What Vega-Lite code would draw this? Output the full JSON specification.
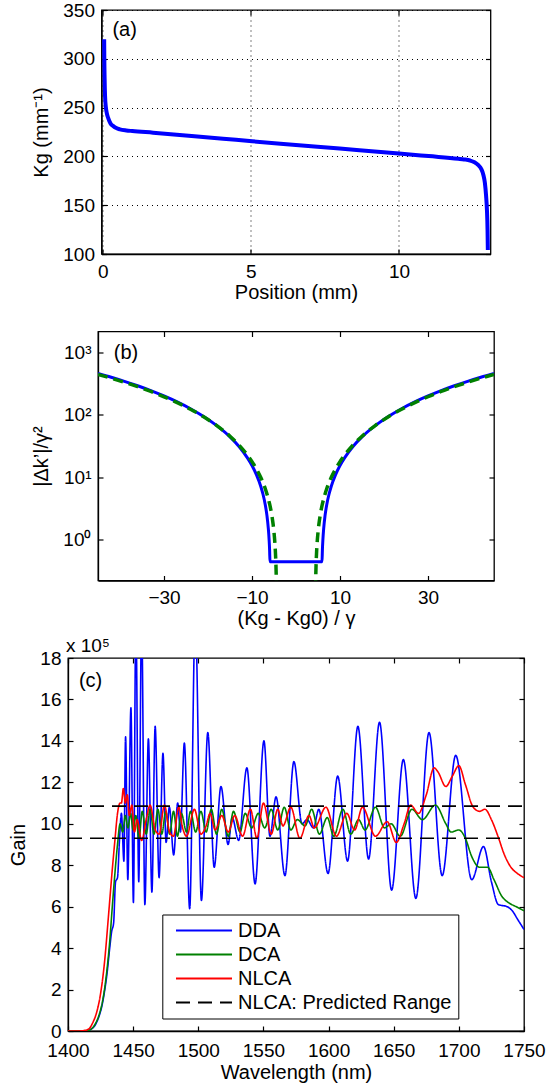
{
  "$schema": "https://vega.github.io/schema/vega-lite/v6.json",
  "padding": {"left": 8, "top": 0, "right": 5, "bottom": 0},
  "config": {
    "font": "Liberation Sans",
    "view": {"stroke": "black", "strokeWidth": 1.3},
    "axis": {
      "domainColor": "black", "domainWidth": 1.3, "tickColor": "black", "tickSize": -5, "tickWidth": 1.2, "labelPadding": 12,
      "labelColor": "black", "titleColor": "black", "labelFontSize": 19, "titleFontSize": 20, "labelFlush": false, "labelOverlap": false,
      "titleFontWeight": "normal", "grid": false, "labelFont": "Liberation Sans", "titleFont": "Liberation Sans"
    },
    "axisY": {"titlePadding": 11},
    "axisX": {"titlePadding": 1, "labelPadding": 13},
    "line": {"strokeCap": "butt"},
    "text": {"font": "Liberation Sans", "color": "black"}
  },
  "datasets": {
    "kg": [
      {"pos": 0.05, "kg": 320}, {"pos": 0.055, "kg": 300}, {"pos": 0.065, "kg": 280}, {"pos": 0.08, "kg": 262},
      {"pos": 0.105, "kg": 251}, {"pos": 0.14, "kg": 244}, {"pos": 0.19, "kg": 239}, {"pos": 0.26, "kg": 234},
      {"pos": 0.36, "kg": 231}, {"pos": 0.46, "kg": 229}, {"pos": 0.58, "kg": 227.7}, {"pos": 0.8, "kg": 226.6},
      {"pos": 1.0, "kg": 226}, {"pos": 1.7, "kg": 224.3}, {"pos": 3, "kg": 221}, {"pos": 4.5, "kg": 217},
      {"pos": 6, "kg": 213}, {"pos": 8, "kg": 208}, {"pos": 10, "kg": 203}, {"pos": 11, "kg": 200.3},
      {"pos": 12, "kg": 197.6}, {"pos": 12.2, "kg": 196.9}, {"pos": 12.4, "kg": 195.8}, {"pos": 12.55, "kg": 194},
      {"pos": 12.68, "kg": 191}, {"pos": 12.78, "kg": 187}, {"pos": 12.85, "kg": 181}, {"pos": 12.9, "kg": 173},
      {"pos": 12.94, "kg": 160}, {"pos": 12.97, "kg": 145}, {"pos": 12.99, "kg": 125}, {"pos": 13.0, "kg": 104}
    ],
    "bblue": [
      {"x": -45, "v": 458.2}, {"x": -42, "v": 398.1}, {"x": -39, "v": 342.2}, {"x": -36, "v": 290.5},
      {"x": -33, "v": 242.9}, {"x": -30, "v": 199.4}, {"x": -27, "v": 160.1}, {"x": -24, "v": 124.9},
      {"x": -21, "v": 93.8}, {"x": -18, "v": 66.9}, {"x": -15, "v": 44.2}, {"x": -13, "v": 31.3},
      {"x": -11, "v": 20.2}, {"x": -10, "v": 15.4}, {"x": -9, "v": 11.0}, {"x": -8, "v": 7.13},
      {"x": -7.5, "v": 5.35}, {"x": -7, "v": 3.68}, {"x": -6.6, "v": 2.43}, {"x": -6.3, "v": 1.54},
      {"x": -6.1, "v": 0.97}, {"x": -6.0, "v": 0.69}, {"x": -5.91, "v": 0.445},
      {"x": 5.91, "v": 0.445}, {"x": 6.0, "v": 0.69}, {"x": 6.1, "v": 0.97}, {"x": 6.3, "v": 1.54},
      {"x": 6.6, "v": 2.43}, {"x": 7, "v": 3.68}, {"x": 7.5, "v": 5.35}, {"x": 8, "v": 7.13},
      {"x": 9, "v": 11.0}, {"x": 10, "v": 15.4}, {"x": 11, "v": 20.2}, {"x": 13, "v": 31.3},
      {"x": 15, "v": 44.2}, {"x": 18, "v": 66.9}, {"x": 21, "v": 93.8}, {"x": 24, "v": 124.9},
      {"x": 27, "v": 160.1}, {"x": 30, "v": 199.4}, {"x": 33, "v": 242.9}, {"x": 36, "v": 290.5},
      {"x": 39, "v": 342.2}, {"x": 42, "v": 398.1}, {"x": 45, "v": 458.2}
    ],
    "bgreen": [
      {"x": -45, "v": 441.3, "p": "L"}, {"x": -42, "v": 383.9, "p": "L"}, {"x": -39, "v": 330.4, "p": "L"},
      {"x": -36, "v": 280.9, "p": "L"}, {"x": -33, "v": 235.4, "p": "L"}, {"x": -30, "v": 193.8, "p": "L"},
      {"x": -27, "v": 156.2, "p": "L"}, {"x": -24, "v": 122.5, "p": "L"}, {"x": -21, "v": 92.8, "p": "L"},
      {"x": -18, "v": 67.1, "p": "L"}, {"x": -15, "v": 45.3, "p": "L"}, {"x": -13, "v": 33, "p": "L"},
      {"x": -11, "v": 22.4, "p": "L"}, {"x": -10, "v": 17.8, "p": "L"}, {"x": -9, "v": 13.6, "p": "L"},
      {"x": -8, "v": 9.9, "p": "L"}, {"x": -7, "v": 6.6, "p": "L"}, {"x": -6.5, "v": 5.1, "p": "L"},
      {"x": -6, "v": 3.74, "p": "L"}, {"x": -5.5, "v": 2.48, "p": "L"}, {"x": -5.2, "v": 1.77, "p": "L"},
      {"x": -5, "v": 1.32, "p": "L"}, {"x": -4.8, "v": 0.89, "p": "L"}, {"x": -4.7, "v": 0.68, "p": "L"},
      {"x": -4.6, "v": 0.475, "p": "L"}, {"x": -4.55, "v": 0.375, "p": "L"}, {"x": -4.5, "v": 0.275, "p": "L"},
      {"x": -4.44, "v": 0.156, "p": "L"},
      {"x": 4.44, "v": 0.156, "p": "R"}, {"x": 4.5, "v": 0.275, "p": "R"}, {"x": 4.55, "v": 0.375, "p": "R"},
      {"x": 4.6, "v": 0.475, "p": "R"}, {"x": 4.7, "v": 0.68, "p": "R"}, {"x": 4.8, "v": 0.89, "p": "R"},
      {"x": 5, "v": 1.32, "p": "R"}, {"x": 5.2, "v": 1.77, "p": "R"}, {"x": 5.5, "v": 2.48, "p": "R"},
      {"x": 6, "v": 3.74, "p": "R"}, {"x": 6.5, "v": 5.1, "p": "R"}, {"x": 7, "v": 6.6, "p": "R"},
      {"x": 8, "v": 9.9, "p": "R"}, {"x": 9, "v": 13.6, "p": "R"}, {"x": 10, "v": 17.8, "p": "R"},
      {"x": 11, "v": 22.4, "p": "R"}, {"x": 13, "v": 33, "p": "R"}, {"x": 15, "v": 45.3, "p": "R"},
      {"x": 18, "v": 67.1, "p": "R"}, {"x": 21, "v": 92.8, "p": "R"}, {"x": 24, "v": 122.5, "p": "R"},
      {"x": 27, "v": 156.2, "p": "R"}, {"x": 30, "v": 193.8, "p": "R"}, {"x": 33, "v": 235.4, "p": "R"},
      {"x": 36, "v": 280.9, "p": "R"}, {"x": 39, "v": 330.4, "p": "R"}, {"x": 42, "v": 383.9, "p": "R"},
      {"x": 45, "v": 441.3, "p": "R"}
    ],
    "gain": [
      {"w": 1400, "g": 0, "s": "DDA", "k": "DDA"}, {"w": 1410, "g": 0, "s": "DDA", "k": "DDA"},
      {"w": 1415, "g": 0.02, "s": "DDA", "k": "DDA"}, {"w": 1418, "g": 0.1, "s": "DDA", "k": "DDA"},
      {"w": 1421, "g": 0.3, "s": "DDA", "k": "DDA"}, {"w": 1424, "g": 0.75, "s": "DDA", "k": "DDA"},
      {"w": 1426, "g": 1.2, "s": "DDA", "k": "DDA"}, {"w": 1428, "g": 1.9, "s": "DDA", "k": "DDA"},
      {"w": 1430, "g": 2.8, "s": "DDA", "k": "DDA"}, {"w": 1432, "g": 4.0, "s": "DDA", "k": "DDA"},
      {"w": 1433.5, "g": 4.8, "s": "DDA", "k": "DDA"}, {"w": 1435, "g": 5.2, "s": "DDA", "k": "DDA"},
      {"w": 1436.5, "g": 7.2, "s": "DDA", "k": "DDA"}, {"w": 1438, "g": 7.4, "s": "DDA", "k": "DDA"},
      {"w": 1439.5, "g": 9.2, "s": "DDA", "k": "DDA"}, {"w": 1441, "g": 10.5, "s": "DDA", "k": "DDA"},
      {"w": 1442.9, "g": 8.2, "s": "DDA", "k": "DDA"}, {"w": 1444.2, "g": 14.2, "s": "DDA", "k": "DDA"},
      {"w": 1445.9, "g": 7.3, "s": "DDA", "k": "DDA"}, {"w": 1448.3, "g": 15.6, "s": "DDA", "k": "DDA"},
      {"w": 1450.2, "g": 6.2, "s": "DDA", "k": "DDA"}, {"w": 1452.1, "g": 20, "s": "DDA", "k": "DDA"},
      {"w": 1454.3, "g": 7.2, "s": "DDA", "k": "DDA"}, {"w": 1456.5, "g": 20, "s": "DDA", "k": "DDA"},
      {"w": 1459, "g": 6.1, "s": "DDA", "k": "DDA"}, {"w": 1461.7, "g": 14.1, "s": "DDA", "k": "DDA"},
      {"w": 1464.4, "g": 6.7, "s": "DDA", "k": "DDA"}, {"w": 1466.9, "g": 14.7, "s": "DDA", "k": "DDA"},
      {"w": 1469.9, "g": 7.4, "s": "DDA", "k": "DDA"}, {"w": 1472.9, "g": 13.4, "s": "DDA", "k": "DDA"},
      {"w": 1475.3, "g": 9.1, "s": "DDA", "k": "DDA"}, {"w": 1477.8, "g": 10.8, "s": "DDA", "k": "DDA"},
      {"w": 1481.1, "g": 8.5, "s": "DDA", "k": "DDA"}, {"w": 1484.2, "g": 11.0, "s": "DDA", "k": "DDA"},
      {"w": 1486.3, "g": 9.6, "s": "DDA", "k": "DDA"}, {"w": 1489.3, "g": 13.9, "s": "DDA", "k": "DDA"},
      {"w": 1493.4, "g": 5.9, "s": "DDA", "k": "DDA"}, {"w": 1497.7, "g": 20, "s": "DDA", "k": "DDA"},
      {"w": 1502.4, "g": 6.3, "s": "DDA", "k": "DDA"}, {"w": 1507.3, "g": 14.4, "s": "DDA", "k": "DDA"},
      {"w": 1512.2, "g": 7.9, "s": "DDA", "k": "DDA"}, {"w": 1517.4, "g": 11.8, "s": "DDA", "k": "DDA"},
      {"w": 1522.9, "g": 9.0, "s": "DDA", "k": "DDA"}, {"w": 1526, "g": 10.3, "s": "DDA", "k": "DDA"},
      {"w": 1531, "g": 9.2, "s": "DDA", "k": "DDA"}, {"w": 1537.3, "g": 12.7, "s": "DDA", "k": "DDA"},
      {"w": 1543.6, "g": 7.1, "s": "DDA", "k": "DDA"}, {"w": 1550.4, "g": 14.0, "s": "DDA", "k": "DDA"},
      {"w": 1555, "g": 9.4, "s": "DDA", "k": "DDA"}, {"w": 1559.7, "g": 11.3, "s": "DDA", "k": "DDA"},
      {"w": 1566.5, "g": 7.5, "s": "DDA", "k": "DDA"}, {"w": 1573.4, "g": 13.0, "s": "DDA", "k": "DDA"},
      {"w": 1579.6, "g": 10.0, "s": "DDA", "k": "DDA"}, {"w": 1583.5, "g": 10.2, "s": "DDA", "k": "DDA"},
      {"w": 1588.4, "g": 9.8, "s": "DDA", "k": "DDA"}, {"w": 1592.5, "g": 10.7, "s": "DDA", "k": "DDA"},
      {"w": 1599.6, "g": 7.6, "s": "DDA", "k": "DDA"}, {"w": 1607, "g": 12.3, "s": "DDA", "k": "DDA"},
      {"w": 1614.6, "g": 8.2, "s": "DDA", "k": "DDA"}, {"w": 1622.5, "g": 14.7, "s": "DDA", "k": "DDA"},
      {"w": 1630.7, "g": 8.3, "s": "DDA", "k": "DDA"}, {"w": 1639.1, "g": 14.9, "s": "DDA", "k": "DDA"},
      {"w": 1648.4, "g": 6.8, "s": "DDA", "k": "DDA"}, {"w": 1657.4, "g": 13.1, "s": "DDA", "k": "DDA"},
      {"w": 1667, "g": 6.4, "s": "DDA", "k": "DDA"}, {"w": 1677.1, "g": 14.4, "s": "DDA", "k": "DDA"},
      {"w": 1687.2, "g": 7.5, "s": "DDA", "k": "DDA"}, {"w": 1697.6, "g": 13.3, "s": "DDA", "k": "DDA"},
      {"w": 1709.9, "g": 7.3, "s": "DDA", "k": "DDA"}, {"w": 1718.9, "g": 8.9, "s": "DDA", "k": "DDA"},
      {"w": 1725, "g": 7.2, "s": "DDA", "k": "DDA"}, {"w": 1730.3, "g": 6.1, "s": "DDA", "k": "DDA"},
      {"w": 1737, "g": 6.0, "s": "DDA", "k": "DDA"}, {"w": 1741, "g": 5.8, "s": "DDA", "k": "DDA"},
      {"w": 1745, "g": 5.4, "s": "DDA", "k": "DDA"}, {"w": 1750, "g": 4.9, "s": "DDA", "k": "DDA"},

      {"w": 1400, "g": 0, "s": "DCA", "k": "DCA"}, {"w": 1410, "g": 0, "s": "DCA", "k": "DCA"},
      {"w": 1415, "g": 0.02, "s": "DCA", "k": "DCA"}, {"w": 1418, "g": 0.1, "s": "DCA", "k": "DCA"},
      {"w": 1421, "g": 0.35, "s": "DCA", "k": "DCA"}, {"w": 1424, "g": 0.8, "s": "DCA", "k": "DCA"},
      {"w": 1427, "g": 1.6, "s": "DCA", "k": "DCA"}, {"w": 1430, "g": 3.0, "s": "DCA", "k": "DCA"},
      {"w": 1432, "g": 4.3, "s": "DCA", "k": "DCA"}, {"w": 1434, "g": 6.0, "s": "DCA", "k": "DCA"},
      {"w": 1436, "g": 7.6, "s": "DCA", "k": "DCA"}, {"w": 1438, "g": 9.0, "s": "DCA", "k": "DCA"},
      {"w": 1440, "g": 10.0, "s": "DCA", "k": "DCA"}, {"w": 1442, "g": 9.6, "s": "DCA", "k": "DCA"},
      {"w": 1444, "g": 10.4, "s": "DCA", "k": "DCA"}, {"w": 1446, "g": 9.8, "s": "DCA", "k": "DCA"},
      {"w": 1448, "g": 10.5, "s": "DCA", "k": "DCA"}, {"w": 1450, "g": 9.7, "s": "DCA", "k": "DCA"},
      {"w": 1452, "g": 10.4, "s": "DCA", "k": "DCA"}, {"w": 1454.5, "g": 9.3, "s": "DCA", "k": "DCA"},
      {"w": 1457, "g": 10.6, "s": "DCA", "k": "DCA"}, {"w": 1460, "g": 9.5, "s": "DCA", "k": "DCA"},
      {"w": 1463, "g": 10.7, "s": "DCA", "k": "DCA"}, {"w": 1466, "g": 9.5, "s": "DCA", "k": "DCA"},
      {"w": 1469, "g": 10.7, "s": "DCA", "k": "DCA"}, {"w": 1472, "g": 9.5, "s": "DCA", "k": "DCA"},
      {"w": 1475, "g": 10.6, "s": "DCA", "k": "DCA"}, {"w": 1478, "g": 9.5, "s": "DCA", "k": "DCA"},
      {"w": 1481, "g": 10.6, "s": "DCA", "k": "DCA"}, {"w": 1484, "g": 9.4, "s": "DCA", "k": "DCA"},
      {"w": 1487, "g": 10.5, "s": "DCA", "k": "DCA"}, {"w": 1491, "g": 9.6, "s": "DCA", "k": "DCA"},
      {"w": 1494, "g": 10.6, "s": "DCA", "k": "DCA"}, {"w": 1498, "g": 9.6, "s": "DCA", "k": "DCA"},
      {"w": 1502, "g": 10.6, "s": "DCA", "k": "DCA"}, {"w": 1506, "g": 9.6, "s": "DCA", "k": "DCA"},
      {"w": 1510, "g": 10.7, "s": "DCA", "k": "DCA"}, {"w": 1514, "g": 9.5, "s": "DCA", "k": "DCA"},
      {"w": 1518, "g": 10.7, "s": "DCA", "k": "DCA"}, {"w": 1523, "g": 9.4, "s": "DCA", "k": "DCA"},
      {"w": 1527, "g": 10.6, "s": "DCA", "k": "DCA"}, {"w": 1532, "g": 9.6, "s": "DCA", "k": "DCA"},
      {"w": 1536, "g": 10.5, "s": "DCA", "k": "DCA"}, {"w": 1541, "g": 9.8, "s": "DCA", "k": "DCA"},
      {"w": 1546, "g": 10.5, "s": "DCA", "k": "DCA"}, {"w": 1551, "g": 9.8, "s": "DCA", "k": "DCA"},
      {"w": 1556, "g": 10.7, "s": "DCA", "k": "DCA"}, {"w": 1561, "g": 9.7, "s": "DCA", "k": "DCA"},
      {"w": 1566, "g": 10.8, "s": "DCA", "k": "DCA"}, {"w": 1571, "g": 9.7, "s": "DCA", "k": "DCA"},
      {"w": 1576, "g": 10.2, "s": "DCA", "k": "DCA"}, {"w": 1582, "g": 9.9, "s": "DCA", "k": "DCA"},
      {"w": 1587, "g": 10.7, "s": "DCA", "k": "DCA"}, {"w": 1593, "g": 9.5, "s": "DCA", "k": "DCA"},
      {"w": 1599, "g": 10.3, "s": "DCA", "k": "DCA"}, {"w": 1604, "g": 9.4, "s": "DCA", "k": "DCA"},
      {"w": 1611, "g": 10.7, "s": "DCA", "k": "DCA"}, {"w": 1617, "g": 9.5, "s": "DCA", "k": "DCA"},
      {"w": 1623, "g": 10.2, "s": "DCA", "k": "DCA"}, {"w": 1628, "g": 9.7, "s": "DCA", "k": "DCA"},
      {"w": 1636, "g": 10.8, "s": "DCA", "k": "DCA"}, {"w": 1643, "g": 9.8, "s": "DCA", "k": "DCA"},
      {"w": 1648, "g": 10.0, "s": "DCA", "k": "DCA"}, {"w": 1655, "g": 9.4, "s": "DCA", "k": "DCA"},
      {"w": 1664, "g": 10.7, "s": "DCA", "k": "DCA"}, {"w": 1672, "g": 10.2, "s": "DCA", "k": "DCA"},
      {"w": 1682, "g": 10.9, "s": "DCA", "k": "DCA"}, {"w": 1690, "g": 10.0, "s": "DCA", "k": "DCA"},
      {"w": 1694, "g": 9.6, "s": "DCA", "k": "DCA"}, {"w": 1700, "g": 9.7, "s": "DCA", "k": "DCA"},
      {"w": 1705, "g": 9.3, "s": "DCA", "k": "DCA"}, {"w": 1710, "g": 8.4, "s": "DCA", "k": "DCA"},
      {"w": 1716, "g": 7.9, "s": "DCA", "k": "DCA"}, {"w": 1722, "g": 7.9, "s": "DCA", "k": "DCA"},
      {"w": 1727, "g": 7.3, "s": "DCA", "k": "DCA"}, {"w": 1733, "g": 6.5, "s": "DCA", "k": "DCA"},
      {"w": 1738, "g": 6.2, "s": "DCA", "k": "DCA"}, {"w": 1744, "g": 6.0, "s": "DCA", "k": "DCA"},
      {"w": 1750, "g": 5.8, "s": "DCA", "k": "DCA"},

      {"w": 1400, "g": 0, "s": "NLCA", "k": "NLCA"}, {"w": 1408, "g": 0, "s": "NLCA", "k": "NLCA"},
      {"w": 1413, "g": 0.03, "s": "NLCA", "k": "NLCA"}, {"w": 1416, "g": 0.1, "s": "NLCA", "k": "NLCA"},
      {"w": 1419, "g": 0.4, "s": "NLCA", "k": "NLCA"}, {"w": 1422, "g": 0.9, "s": "NLCA", "k": "NLCA"},
      {"w": 1425, "g": 1.8, "s": "NLCA", "k": "NLCA"}, {"w": 1428, "g": 3.3, "s": "NLCA", "k": "NLCA"},
      {"w": 1431, "g": 5.5, "s": "NLCA", "k": "NLCA"}, {"w": 1434, "g": 7.8, "s": "NLCA", "k": "NLCA"},
      {"w": 1436, "g": 9.2, "s": "NLCA", "k": "NLCA"}, {"w": 1438, "g": 10.5, "s": "NLCA", "k": "NLCA"},
      {"w": 1440, "g": 11.0, "s": "NLCA", "k": "NLCA"}, {"w": 1441, "g": 11.0, "s": "NLCA", "k": "NLCA"},
      {"w": 1442.5, "g": 11.7, "s": "NLCA", "k": "NLCA"}, {"w": 1444, "g": 11.0, "s": "NLCA", "k": "NLCA"},
      {"w": 1445.5, "g": 11.4, "s": "NLCA", "k": "NLCA"}, {"w": 1447, "g": 10.4, "s": "NLCA", "k": "NLCA"},
      {"w": 1449, "g": 10.9, "s": "NLCA", "k": "NLCA"}, {"w": 1451, "g": 9.6, "s": "NLCA", "k": "NLCA"},
      {"w": 1453, "g": 10.2, "s": "NLCA", "k": "NLCA"}, {"w": 1456.5, "g": 9.2, "s": "NLCA", "k": "NLCA"},
      {"w": 1460, "g": 10.2, "s": "NLCA", "k": "NLCA"}, {"w": 1463, "g": 10.9, "s": "NLCA", "k": "NLCA"},
      {"w": 1467, "g": 9.7, "s": "NLCA", "k": "NLCA"}, {"w": 1470, "g": 9.5, "s": "NLCA", "k": "NLCA"},
      {"w": 1474, "g": 10.9, "s": "NLCA", "k": "NLCA"}, {"w": 1478, "g": 9.6, "s": "NLCA", "k": "NLCA"},
      {"w": 1481, "g": 9.4, "s": "NLCA", "k": "NLCA"}, {"w": 1485, "g": 10.8, "s": "NLCA", "k": "NLCA"},
      {"w": 1488, "g": 9.8, "s": "NLCA", "k": "NLCA"}, {"w": 1491, "g": 9.4, "s": "NLCA", "k": "NLCA"},
      {"w": 1497, "g": 10.7, "s": "NLCA", "k": "NLCA"}, {"w": 1502, "g": 9.5, "s": "NLCA", "k": "NLCA"},
      {"w": 1506, "g": 9.9, "s": "NLCA", "k": "NLCA"}, {"w": 1509, "g": 10.5, "s": "NLCA", "k": "NLCA"},
      {"w": 1513, "g": 9.7, "s": "NLCA", "k": "NLCA"}, {"w": 1518, "g": 10.4, "s": "NLCA", "k": "NLCA"},
      {"w": 1523, "g": 9.6, "s": "NLCA", "k": "NLCA"}, {"w": 1528, "g": 10.4, "s": "NLCA", "k": "NLCA"},
      {"w": 1534, "g": 9.4, "s": "NLCA", "k": "NLCA"}, {"w": 1540, "g": 10.7, "s": "NLCA", "k": "NLCA"},
      {"w": 1545, "g": 9.3, "s": "NLCA", "k": "NLCA"}, {"w": 1550, "g": 11.0, "s": "NLCA", "k": "NLCA"},
      {"w": 1556, "g": 9.5, "s": "NLCA", "k": "NLCA"}, {"w": 1561, "g": 10.7, "s": "NLCA", "k": "NLCA"},
      {"w": 1565, "g": 9.9, "s": "NLCA", "k": "NLCA"}, {"w": 1571, "g": 10.8, "s": "NLCA", "k": "NLCA"},
      {"w": 1578, "g": 9.3, "s": "NLCA", "k": "NLCA"}, {"w": 1585, "g": 10.4, "s": "NLCA", "k": "NLCA"},
      {"w": 1589, "g": 9.8, "s": "NLCA", "k": "NLCA"}, {"w": 1598, "g": 10.8, "s": "NLCA", "k": "NLCA"},
      {"w": 1606, "g": 9.4, "s": "NLCA", "k": "NLCA"}, {"w": 1614, "g": 10.5, "s": "NLCA", "k": "NLCA"},
      {"w": 1620, "g": 9.7, "s": "NLCA", "k": "NLCA"}, {"w": 1626, "g": 10.8, "s": "NLCA", "k": "NLCA"},
      {"w": 1636, "g": 9.4, "s": "NLCA", "k": "NLCA"}, {"w": 1645, "g": 10.1, "s": "NLCA", "k": "NLCA"},
      {"w": 1652, "g": 9.1, "s": "NLCA", "k": "NLCA"}, {"w": 1658, "g": 10.0, "s": "NLCA", "k": "NLCA"},
      {"w": 1663, "g": 10.9, "s": "NLCA", "k": "NLCA"}, {"w": 1669, "g": 10.5, "s": "NLCA", "k": "NLCA"},
      {"w": 1675, "g": 11.4, "s": "NLCA", "k": "NLCA"}, {"w": 1681, "g": 12.7, "s": "NLCA", "k": "NLCA"},
      {"w": 1684, "g": 12.5, "s": "NLCA", "k": "NLCA"}, {"w": 1690, "g": 11.8, "s": "NLCA", "k": "NLCA"},
      {"w": 1695, "g": 12.3, "s": "NLCA", "k": "NLCA"}, {"w": 1700, "g": 12.8, "s": "NLCA", "k": "NLCA"},
      {"w": 1705, "g": 11.9, "s": "NLCA", "k": "NLCA"}, {"w": 1711, "g": 10.8, "s": "NLCA", "k": "NLCA"},
      {"w": 1716, "g": 10.6, "s": "NLCA", "k": "NLCA"}, {"w": 1720, "g": 10.7, "s": "NLCA", "k": "NLCA"},
      {"w": 1725, "g": 10.2, "s": "NLCA", "k": "NLCA"}, {"w": 1730, "g": 9.4, "s": "NLCA", "k": "NLCA"},
      {"w": 1735, "g": 8.5, "s": "NLCA", "k": "NLCA"}, {"w": 1740, "g": 7.9, "s": "NLCA", "k": "NLCA"},
      {"w": 1745, "g": 7.6, "s": "NLCA", "k": "NLCA"}, {"w": 1750, "g": 7.4, "s": "NLCA", "k": "NLCA"},

      {"w": 1400, "g": 10.85, "s": "NLCA: Predicted Range", "k": "hi"},
      {"w": 1750, "g": 10.85, "s": "NLCA: Predicted Range", "k": "hi"},
      {"w": 1400, "g": 9.3, "s": "NLCA: Predicted Range", "k": "lo"},
      {"w": 1750, "g": 9.3, "s": "NLCA: Predicted Range", "k": "lo"}
    ]
  },
  "vconcat": [
    {
      "width": 389, "height": 244,
      "resolve": {"axis": {"x": "independent", "y": "independent"}},
      "layer": [
        {
          "data": {"name": "kg"},
          "mark": {"type": "line", "color": "#0000ff", "strokeWidth": 4, "interpolate": "monotone"},
          "encoding": {
            "x": {"field": "pos", "type": "quantitative", "scale": {"domain": [-0.04, 13.09], "nice": false, "zero": false},
                  "axis": {"title": "Position (mm)", "values": [0, 5, 10], "grid": true, "gridDash": [1, 4], "gridColor": "black", "gridWidth": 1}},
            "y": {"field": "kg", "type": "quantitative", "scale": {"domain": [100, 350], "nice": false, "zero": false},
                  "axis": {"title": "Kg (mm⁻¹)", "values": [100, 150, 200, 250, 300, 350], "grid": true, "gridDash": [1, 4], "gridColor": "black", "gridWidth": 1}}
          }
        },
        {
          "data": {"values": [{"pos": 0.33, "kg": 329, "t": "(a)"}]},
          "mark": {"type": "text", "align": "left", "baseline": "middle", "fontSize": 20},
          "encoding": {
            "x": {"field": "pos", "type": "quantitative",
                  "axis": {"orient": "top", "labels": false, "title": null, "domain": false, "values": [0, 5, 10]}},
            "y": {"field": "kg", "type": "quantitative",
                  "axis": {"orient": "right", "labels": false, "title": null, "domain": false, "values": [100, 150, 200, 250, 300, 350]}},
            "text": {"field": "t"}
          }
        }
      ]
    },
    {
      "width": 396, "height": 249,
      "resolve": {"axis": {"x": "independent", "y": "independent"}},
      "layer": [
        {
          "data": {"name": "bblue"},
          "mark": {"type": "line", "color": "#0000ff", "strokeWidth": 3, "interpolate": "monotone", "clip": true},
          "encoding": {
            "x": {"field": "x", "type": "quantitative", "scale": {"domain": [-45, 45], "nice": false, "zero": false},
                  "axis": {"title": "(Kg - Kg0) / γ", "values": [-30, -10, 10, 30]}},
            "y": {"field": "v", "type": "quantitative", "scale": {"type": "log", "domain": [0.2234, 2143], "nice": false},
                  "axis": {"title": "|Δk’|/γ²", "values": [1, 10, 100, 1000],
                           "labelExpr": "datum.value == 1 ? '10⁰' : datum.value == 10 ? '10¹' : datum.value == 100 ? '10²' : '10³'"}}
          }
        },
        {
          "data": {"name": "bgreen"},
          "mark": {"type": "line", "color": "#008000", "strokeWidth": 3.5, "strokeDash": [10, 6], "interpolate": "monotone", "clip": true},
          "encoding": {
            "x": {"field": "x", "type": "quantitative", "axis": null},
            "y": {"field": "v", "type": "quantitative", "axis": null},
            "detail": {"field": "p"}
          }
        },
        {
          "data": {"values": [{"x": -41.4, "v": 955, "t": "(b)"}]},
          "mark": {"type": "text", "align": "left", "baseline": "middle", "fontSize": 20},
          "encoding": {
            "x": {"field": "x", "type": "quantitative",
                  "axis": {"orient": "top", "labels": false, "title": null, "domain": false, "values": [-30, -10, 10, 30]}},
            "y": {"field": "v", "type": "quantitative",
                  "axis": {"orient": "right", "labels": false, "title": null, "domain": false, "values": [1, 10, 100, 1000]}},
            "text": {"field": "t"}
          }
        }
      ]
    },
    {
      "width": 456, "height": 373,
      "title": {"text": "x 10⁵", "anchor": "start", "frame": "group", "fontSize": 19, "fontWeight": "normal", "offset": 0, "dx": -2, "dy": 7, "font": "Liberation Sans"},
      "resolve": {"axis": {"x": "independent", "y": "independent"}},
      "layer": [
        {
          "data": {"name": "gain"},
          "mark": {"type": "line", "strokeWidth": 1.6, "interpolate": "monotone", "clip": true},
          "encoding": {
            "x": {"field": "w", "type": "quantitative", "scale": {"domain": [1400, 1750], "nice": false, "zero": false},
                  "axis": {"title": "Wavelength (nm)", "values": [1400, 1450, 1500, 1550, 1600, 1650, 1700, 1750], "format": "d", "labelPadding": 15, "titlePadding": 2}},
            "y": {"field": "g", "type": "quantitative", "scale": {"domain": [0, 18], "nice": false},
                  "axis": {"title": "Gain", "values": [0, 2, 4, 6, 8, 10, 12, 14, 16, 18], "format": "d"}},
            "color": {"field": "s", "type": "nominal",
                      "scale": {"domain": ["DDA", "DCA", "NLCA", "NLCA: Predicted Range"], "range": ["#0000ff", "#008000", "#ff0000", "#000000"]},
                      "legend": {"orient": "none", "legendX": 94.3, "legendY": 256.5, "title": null, "symbolType": "M-3.5,0H3.5", "symbolSize": 256,
                                 "symbolStrokeWidth": 2, "symbolOffset": 25.7, "labelFontSize": 20, "labelOffset": 24, "labelLimit": 0,
                                 "strokeColor": "black", "fillColor": "white", "padding": 6, "rowPadding": 4,
                                 "labelFont": "Liberation Sans", "labelColor": "black"}},
            "strokeDash": {"field": "s", "type": "nominal",
                           "scale": {"domain": ["DDA", "DCA", "NLCA", "NLCA: Predicted Range"], "range": [[1, 0], [1, 0], [1, 0], [14, 8]]},
                           "legend": {"orient": "none", "legendX": 94.3, "legendY": 256.5, "title": null, "symbolType": "M-3.5,0H3.5", "symbolSize": 256,
                                      "symbolStrokeWidth": 2, "symbolOffset": 25.7, "labelFontSize": 20, "labelOffset": 24, "labelLimit": 0,
                                      "strokeColor": "black", "fillColor": "white", "padding": 6, "rowPadding": 4,
                                      "labelFont": "Liberation Sans", "labelColor": "black"}},
            "detail": {"field": "k"}
          }
        },
        {
          "data": {"values": [{"w": 1408.4, "g": 16.9, "t": "(c)"}]},
          "mark": {"type": "text", "align": "left", "baseline": "middle", "fontSize": 20},
          "encoding": {
            "x": {"field": "w", "type": "quantitative",
                  "axis": {"orient": "top", "labels": false, "title": null, "domain": false, "values": [1400, 1450, 1500, 1550, 1600, 1650, 1700, 1750]}},
            "y": {"field": "g", "type": "quantitative",
                  "axis": {"orient": "right", "labels": false, "title": null, "domain": false, "values": [0, 2, 4, 6, 8, 10, 12, 14, 16, 18]}},
            "text": {"field": "t"}
          }
        }
      ]
    }
  ],
  "spacing": 77.5,
  "bounds": "flush",
  "center": true,
  "resolve": {"scale": {"color": "independent", "strokeDash": "independent"}, "legend": {"color": "independent", "strokeDash": "independent"}}
}
